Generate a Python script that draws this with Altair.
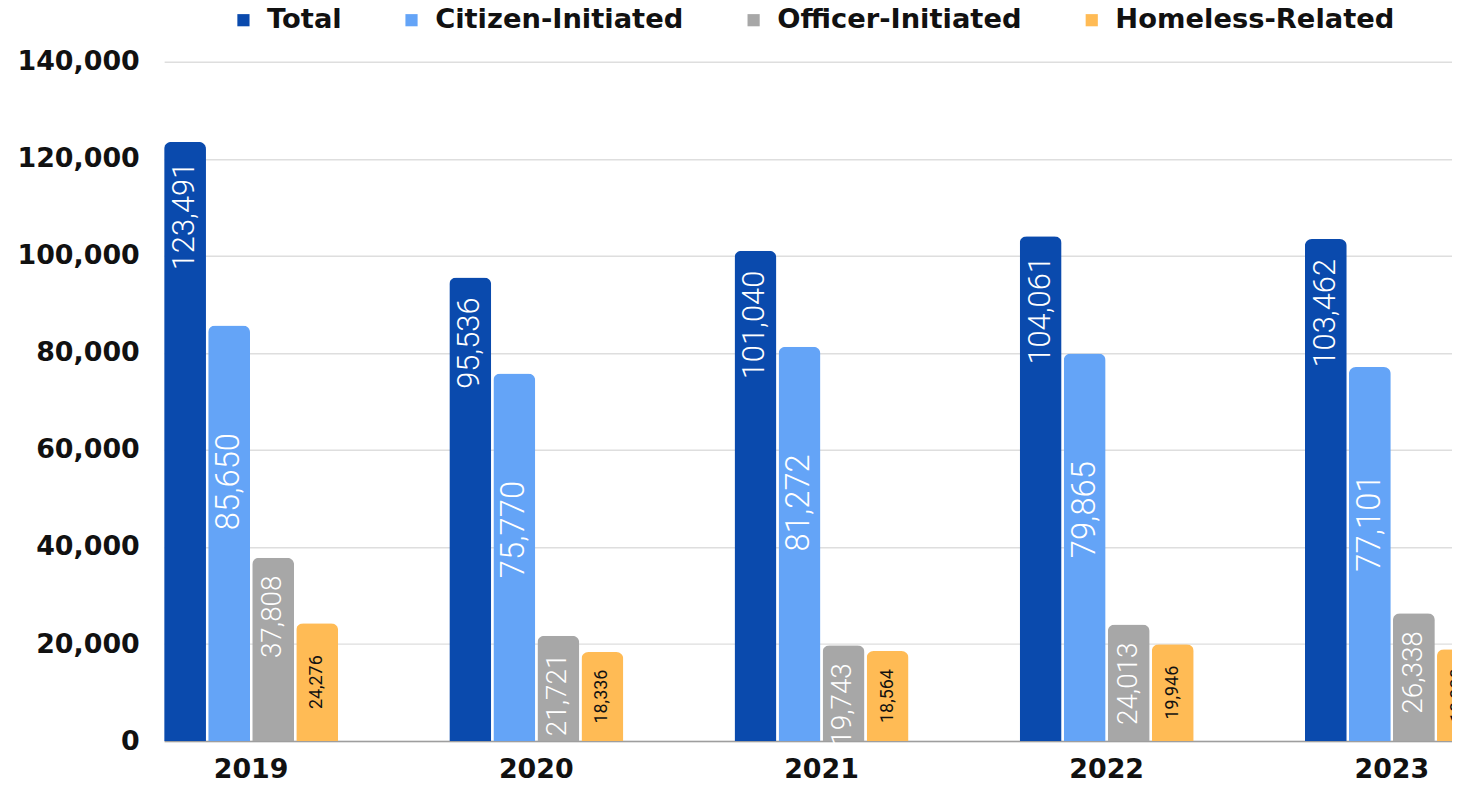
import altair as alt
import pandas as pd

years = ["2019", "2020", "2021", "2022", "2023"]
series = ["Total", "Citizen-Initiated", "Officer-Initiated", "Homeless-Related"]
total = [123491, 95536, 101040, 104061, 103462]
citizen = [85650, 75770, 81272, 79865, 77101]
officer = [37808, 21721, 19743, 24013, 26338]
homeless = [24276, 18336, 18564, 19946, 18920]
colors = ["#0A4AAD", "#64A4F7", "#A7A7A7", "#FFBB55"]
y_ticks = [0, 20000, 40000, 60000, 80000, 100000, 120000, 140000]

rows = []
for s, vals in zip(series, [total, citizen, officer, homeless]):
    for yr, v in zip(years, vals):
        rows.append({"year": yr, "series": s, "value": v, "label": f"{v:,}",
                     "half": v / 2})
df = pd.DataFrame(rows)

AXIS_FONT = "DejaVu Sans"
LABEL_FONT = "Roboto"

x_axis = alt.Axis(title=None, labelAngle=0, labelFontSize=27, labelFont=AXIS_FONT,
                  labelFontWeight="bold", labelColor="#111111", labelPadding=16,
                  domainColor="#9e9e9e", domainWidth=1.5, ticks=False, grid=False)
y_axis = alt.Axis(title=None, values=y_ticks, format=",d", labelFontSize=27,
                  labelFont=AXIS_FONT, labelFontWeight="bold", labelColor="#111111",
                  gridColor="#dedede", gridWidth=1.5, domain=False, ticks=False,
                  labelPadding=25)

x_enc = alt.X("year:N", sort=years,
              scale=alt.Scale(range=[0, 1322], paddingInner=0.39, paddingOuter=0),
              axis=x_axis)
xo_enc = alt.XOffset("series:N", sort=series,
                     scale=alt.Scale(paddingInner=0.05, paddingOuter=0))
y_scale = alt.Scale(domain=[0, 140000], nice=False)

base = alt.Chart(df)

bars = base.mark_bar(cornerRadiusTopLeft=7, cornerRadiusTopRight=7).encode(
    x=x_enc,
    xOffset=xo_enc,
    y=alt.Y("value:Q", scale=y_scale, axis=y_axis),
    color=alt.Color("series:N", sort=series,
                    scale=alt.Scale(domain=series, range=colors),
                    legend=alt.Legend(title=None, orient="none", legendX=66, legendY=-56,
                                      direction="horizontal", symbolType="square",
                                      symbolSize=150, symbolStrokeWidth=0,
                                      labelFontSize=27.5, labelFont=AXIS_FONT,
                                      labelFontWeight="bold", labelColor="#111111",
                                      labelLimit=500,
                                      columnPadding=56, labelOffset=10, padding=0)),
)


def top_labels(name, size, offset):
    return base.transform_filter(alt.datum.series == name).mark_text(
        angle=270, align="right", baseline="middle", dx=-offset,
        font=LABEL_FONT, fontWeight=300, fontSize=size, color="white",
    ).encode(
        x=x_enc, xOffset=xo_enc,
        y=alt.Y("value:Q", scale=y_scale, axis=y_axis),
        text="label:N",
    )


t_total = top_labels("Total", 31, 20)
t_cit = top_labels("Citizen-Initiated", 33, 108)
t_off = top_labels("Officer-Initiated", 28, 18)

t_home = base.transform_filter(alt.datum.series == "Homeless-Related").mark_text(
    angle=270, align="center", baseline="middle",
    font=LABEL_FONT, fontWeight=400, fontSize=18, color="#111111",
).encode(
    x=x_enc, xOffset=xo_enc,
    y=alt.Y("half:Q", scale=y_scale, axis=y_axis),
    text="label:N",
)

chart = alt.layer(bars, t_total, t_cit, t_off, t_home).properties(
    width=1295, height=683, autosize="none",
    padding={"left": 157, "top": 52, "right": 0, "bottom": 40},
).configure_view(stroke=None)

chart.save("out.html", embed_options={"renderer": "svg", "actions": False})
